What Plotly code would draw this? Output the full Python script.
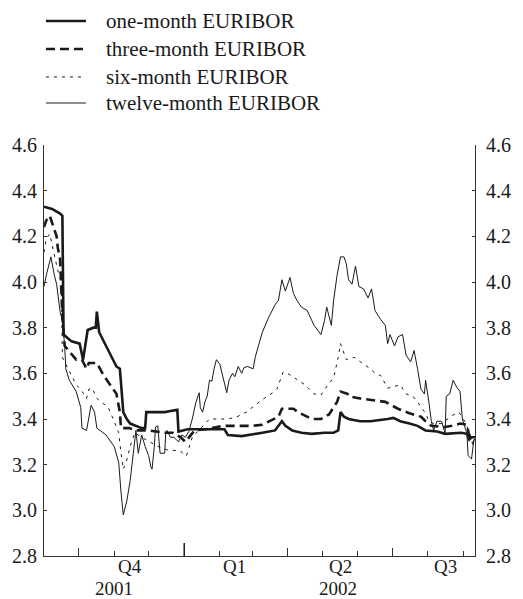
import plotly.graph_objects as go

# ---------------- data ----------------
one_month_dates = [
    "2001-09-01", "2001-09-08", "2001-09-15", "2001-09-17", "2001-09-18", "2001-09-25",
    "2001-10-02", "2001-10-05", "2001-10-09", "2001-10-14", "2001-10-16", "2001-10-17",
    "2001-10-19", "2001-10-23", "2001-10-27", "2001-10-31", "2001-11-03", "2001-11-06",
    "2001-11-07", "2001-11-09", "2001-11-12", "2001-11-15", "2001-11-20", "2001-11-25",
    "2001-11-28", "2001-11-29", "2001-12-07", "2001-12-15", "2001-12-20", "2001-12-26",
    "2001-12-27", "2002-01-04", "2002-01-10", "2002-01-21", "2002-02-05", "2002-02-08",
    "2002-02-20", "2002-03-10", "2002-03-21", "2002-03-27", "2002-03-30", "2002-04-05",
    "2002-04-13", "2002-04-22", "2002-05-03", "2002-05-11", "2002-05-15", "2002-05-17",
    "2002-05-20", "2002-05-24", "2002-06-03", "2002-06-12", "2002-06-21", "2002-06-27",
    "2002-07-02", "2002-07-08", "2002-07-16", "2002-07-23", "2002-07-30", "2002-08-09",
    "2002-08-16", "2002-08-26", "2002-08-30", "2002-09-04", "2002-09-06", "2002-09-08",
    "2002-09-11",
]
one_month = [
    4.33, 4.32, 4.30, 4.29, 3.77, 3.74,
    3.73, 3.66, 3.79, 3.80, 3.80, 3.87,
    3.78, 3.74, 3.70, 3.66, 3.63, 3.62,
    3.55, 3.43, 3.40, 3.38, 3.37, 3.36,
    3.36, 3.43, 3.43, 3.43, 3.435, 3.44,
    3.345, 3.355, 3.355, 3.355, 3.355, 3.33,
    3.325, 3.34, 3.35, 3.39, 3.37, 3.35,
    3.34, 3.335, 3.34, 3.34, 3.35, 3.43,
    3.41, 3.40, 3.39, 3.39, 3.395, 3.40,
    3.405, 3.39, 3.38, 3.37, 3.35, 3.345,
    3.335, 3.34, 3.34, 3.335, 3.31, 3.32,
    3.32,
]

three_month_dates = [
    "2001-09-01", "2001-09-03", "2001-09-06", "2001-09-08", "2001-09-12", "2001-09-13",
    "2001-09-15", "2001-09-17", "2001-09-19", "2001-09-29", "2001-10-04", "2001-10-08",
    "2001-10-10", "2001-10-17", "2001-10-23", "2001-11-03", "2001-11-06", "2001-11-07",
    "2001-11-14", "2001-11-20", "2001-11-25", "2001-12-01", "2001-12-15", "2001-12-22",
    "2001-12-29", "2002-01-02", "2002-01-10", "2002-01-20", "2002-02-03", "2002-02-16",
    "2002-03-01", "2002-03-10", "2002-03-24", "2002-03-27", "2002-04-06", "2002-04-10",
    "2002-04-22", "2002-04-30", "2002-05-07", "2002-05-14", "2002-05-17", "2002-05-23",
    "2002-05-24", "2002-06-03", "2002-06-15", "2002-06-25", "2002-07-06", "2002-07-16",
    "2002-07-26", "2002-07-30", "2002-08-04", "2002-08-16", "2002-08-22", "2002-08-29",
    "2002-09-04", "2002-09-06", "2002-09-10",
]
three_month = [
    4.24, 4.27, 4.29, 4.26, 4.20, 4.15,
    4.10, 3.85, 3.72, 3.66, 3.66, 3.62,
    3.645, 3.645, 3.59, 3.51, 3.43, 3.36,
    3.36, 3.35, 3.35, 3.35, 3.34, 3.34,
    3.32, 3.30, 3.35, 3.355, 3.37, 3.37,
    3.37, 3.375, 3.41, 3.445, 3.445, 3.43,
    3.40, 3.40, 3.42, 3.475, 3.52, 3.51,
    3.50, 3.49, 3.48, 3.475, 3.445, 3.425,
    3.41, 3.39, 3.37, 3.365, 3.37, 3.38,
    3.375, 3.325, 3.30,
]

six_month_dates = [
    "2001-09-01", "2001-09-03", "2001-09-06", "2001-09-08", "2001-09-10", "2001-09-13",
    "2001-09-15", "2001-09-16", "2001-09-17", "2001-09-23", "2001-09-29", "2001-10-03",
    "2001-10-08", "2001-10-10", "2001-10-13", "2001-10-17", "2001-10-27", "2001-11-01",
    "2001-11-05", "2001-11-07", "2001-11-09", "2001-11-12", "2001-11-15", "2001-11-19",
    "2001-11-25", "2001-12-09", "2001-12-17", "2001-12-29", "2002-01-01", "2002-01-03",
    "2002-01-08", "2002-01-23", "2002-02-05", "2002-02-14", "2002-02-24", "2002-03-10",
    "2002-03-19", "2002-03-23", "2002-03-28", "2002-04-01", "2002-04-07",
    "2002-04-16", "2002-04-24", "2002-04-30", "2002-05-06", "2002-05-11", "2002-05-15",
    "2002-05-17", "2002-05-22", "2002-05-29", "2002-06-06", "2002-06-12", "2002-06-16",
    "2002-06-21", "2002-06-27", "2002-07-08", "2002-07-13", "2002-07-19", "2002-07-25",
    "2002-07-30", "2002-08-02", "2002-08-06", "2002-08-13", "2002-08-22", "2002-08-28",
    "2002-09-02", "2002-09-06", "2002-09-10",
]
six_month = [
    4.13, 4.19, 4.21, 4.16, 4.12, 4.05,
    4.02, 3.99, 3.67, 3.61, 3.55, 3.53,
    3.49, 3.53, 3.535, 3.49, 3.45, 3.39,
    3.34, 3.25, 3.18, 3.22, 3.28, 3.34,
    3.32, 3.28, 3.265, 3.26, 3.24, 3.24,
    3.32, 3.40, 3.40, 3.405, 3.43, 3.485,
    3.515, 3.535, 3.605, 3.60, 3.58,
    3.55, 3.51, 3.505, 3.55, 3.58, 3.67,
    3.73, 3.66, 3.67, 3.64, 3.62, 3.60,
    3.59, 3.535, 3.55, 3.51, 3.50, 3.46,
    3.425, 3.39, 3.38, 3.38, 3.415, 3.43,
    3.39, 3.345, 3.27,
]

twelve_month_dates = [
    "2001-09-01", "2001-09-03", "2001-09-07", "2001-09-09", "2001-09-10", "2001-09-12",
    "2001-09-15", "2001-09-17", "2001-09-19", "2001-09-20", "2001-09-23", "2001-09-29",
    "2001-10-03", "2001-10-04", "2001-10-08", "2001-10-12", "2001-10-15", "2001-10-17",
    "2001-10-25", "2001-11-01", "2001-11-05", "2001-11-07", "2001-11-09", "2001-11-12",
    "2001-11-15", "2001-11-17", "2001-11-19", "2001-11-20", "2001-11-22", "2001-11-25",
    "2001-11-28", "2001-12-01", "2001-12-03", "2001-12-04", "2001-12-06", "2001-12-07",
    "2001-12-09", "2001-12-10", "2001-12-11", "2001-12-15", "2001-12-16", "2001-12-17",
    "2001-12-20", "2001-12-23", "2001-12-27", "2001-12-30", "2002-01-02", "2002-01-05",
    "2002-01-08", "2002-01-11", "2002-01-13", "2002-01-14", "2002-01-15", "2002-01-17",
    "2002-01-19", "2002-01-21", "2002-01-23", "2002-01-25", "2002-01-27", "2002-01-29",
    "2002-02-01", "2002-02-04", "2002-02-07", "2002-02-09", "2002-02-12", "2002-02-14",
    "2002-02-17", "2002-02-20", "2002-02-22", "2002-02-25", "2002-03-02", "2002-03-04",
    "2002-03-07", "2002-03-10", "2002-03-15", "2002-03-21", "2002-03-24", "2002-03-27",
    "2002-03-30", "2002-04-03", "2002-04-06", "2002-04-09", "2002-04-13", "2002-04-18",
    "2002-04-24", "2002-04-27", "2002-04-30", "2002-05-03", "2002-05-05", "2002-05-09",
    "2002-05-11", "2002-05-14", "2002-05-17", "2002-05-20", "2002-05-22", "2002-05-24",
    "2002-05-27", "2002-05-30", "2002-06-02", "2002-06-06", "2002-06-10", "2002-06-13",
    "2002-06-16", "2002-06-21", "2002-06-25", "2002-06-27", "2002-06-29", "2002-07-03",
    "2002-07-06", "2002-07-10", "2002-07-13", "2002-07-17", "2002-07-20", "2002-07-23",
    "2002-07-26", "2002-07-29", "2002-07-30", "2002-08-02", "2002-08-04", "2002-08-06",
    "2002-08-09", "2002-08-13", "2002-08-16", "2002-08-17", "2002-08-20", "2002-08-23",
    "2002-08-26", "2002-08-29", "2002-08-31", "2002-09-04", "2002-09-05", "2002-09-08",
    "2002-09-10", "2002-09-11",
]
twelve_month = [
    3.98, 4.03, 4.11, 4.05, 4.03, 3.99,
    3.87, 3.83, 3.72, 3.62, 3.57, 3.52,
    3.45, 3.36, 3.35, 3.46, 3.43, 3.36,
    3.33, 3.28, 3.21, 3.08, 2.98, 3.04,
    3.13, 3.22, 3.31, 3.35, 3.25, 3.33,
    3.28, 3.24, 3.19, 3.18, 3.28, 3.365,
    3.37, 3.295, 3.25, 3.25, 3.345, 3.35,
    3.32, 3.32, 3.30, 3.33, 3.32, 3.345,
    3.40, 3.47, 3.50, 3.515, 3.45, 3.43,
    3.475, 3.50, 3.57, 3.565, 3.62, 3.66,
    3.64, 3.57, 3.515, 3.57, 3.60, 3.585,
    3.63, 3.60, 3.625, 3.63, 3.62, 3.675,
    3.73, 3.78, 3.84, 3.90, 3.92, 4.01,
    3.96, 4.02, 3.95, 3.92, 3.89, 3.875,
    3.81, 3.79, 3.77, 3.83, 3.89, 3.81,
    3.92, 4.03, 4.11, 4.11, 4.08, 4.01,
    3.99, 4.07, 3.98, 3.97, 3.93, 3.97,
    3.875, 3.835, 3.81, 3.73, 3.77, 3.72,
    3.76, 3.77, 3.68, 3.65, 3.70, 3.62,
    3.53, 3.51, 3.57, 3.47, 3.39, 3.35,
    3.39, 3.39, 3.335, 3.50, 3.51, 3.57,
    3.54, 3.52, 3.40, 3.335, 3.24, 3.225,
    3.31, 3.31,
]

series_names = ["one-month EURIBOR", "three-month EURIBOR",
                "six-month EURIBOR", "twelve-month EURIBOR"]

y_ticks = [2.8, 3.0, 3.2, 3.4, 3.6, 3.8, 4.0, 4.2, 4.4, 4.6]
quarter_ticks = ["2001-10-01", "2002-01-01", "2002-04-01", "2002-07-01"]
quarter_labels = ["Q4", "Q1", "Q2", "Q3"]
quarter_label_pos = ["2001-11-15", "2002-02-14", "2002-05-17", "2002-08-16"]
year_labels = ["2001", "2002"]
year_label_pos = ["2001-11-01", "2002-05-15"]
x_range = ["2001-09-01", "2002-09-11"]
y_range = [2.8, 4.6]

# ---------------- figure ----------------
INK = "#1a1a1a"
AXIS = "#333333"
FONT = "Liberation Serif, Times New Roman, serif"
FS = 20
W, H = 523, 599
ML, MR, MT, MB = 44, 37, 145, 43
PLOT_W = W - ML - MR
PLOT_H = H - MT - MB


def px_to_paper(px, py):
    return (px - ML) / PLOT_W, (H - MB - py) / PLOT_H


fig = go.Figure()
styles = [
    dict(width=2.6, dash="solid"),
    dict(width=2.6, dash="9px,5px"),
    dict(width=1.0, dash="3px,5px"),
    dict(width=1.0, dash="solid"),
]
data = [(one_month_dates, one_month), (three_month_dates, three_month),
        (six_month_dates, six_month), (twelve_month_dates, twelve_month)]
for name, (xs, ys), st in zip(series_names, data, styles):
    fig.add_trace(go.Scatter(x=xs, y=ys, name=name, mode="lines",
                             line=dict(color=INK, width=st["width"], dash=st["dash"]),
                             hoverinfo="skip", showlegend=False))

# invisible trace so the right-hand axis is drawn
fig.add_trace(go.Scatter(x=[x_range[0]], y=[y_range[0]], yaxis="y2", mode="lines",
                         line=dict(width=0), showlegend=False, hoverinfo="skip"))

axis_common = dict(range=y_range, tickvals=y_ticks, tickformat=".1f",
                   ticks="inside", ticklen=3, tickwidth=1, tickcolor=AXIS,
                   showline=True, linecolor=AXIS, linewidth=1,
                   showgrid=False, zeroline=False,
                   tickfont=dict(family=FONT, size=FS, color=INK))

fig.update_layout(
    width=W, height=H,
    margin=dict(l=ML, r=MR, t=MT, b=MB),
    paper_bgcolor="white", plot_bgcolor="white",
    font=dict(family=FONT, size=FS, color=INK),
    showlegend=False,
    xaxis=dict(type="date", range=x_range, tickvals=quarter_ticks, showticklabels=False,
               ticks="inside", ticklen=8, tickwidth=1, tickcolor=AXIS,
               minor=dict(dtick="M1", tick0="2001-09-01", ticks="inside", ticklen=5,
                          tickwidth=1, tickcolor=AXIS, showgrid=False),
               showline=True, linecolor=AXIS, linewidth=1, showgrid=False, zeroline=False),
    yaxis=dict(side="left", ticklabelstandoff=2, **axis_common),
    yaxis2=dict(side="right", overlaying="y", ticklabelstandoff=6, **axis_common),
)

# legend drawn in the top margin: sample line + label for each series
legend_rows_px = [21, 49, 77, 103]
for name, st, ry in zip(series_names, styles, legend_rows_px):
    x0, yy = px_to_paper(46, ry)
    x1, _ = px_to_paper(87, ry)
    fig.add_shape(type="line", xref="paper", yref="paper", x0=x0, x1=x1, y0=yy, y1=yy,
                  line=dict(color=INK, width=st["width"], dash=st["dash"]))
    tx, _ = px_to_paper(106, ry)
    fig.add_annotation(x=tx, y=yy, xref="paper", yref="paper", text=name,
                       showarrow=False, xanchor="left", yanchor="middle",
                       font=dict(family=FONT, size=21, color=INK))

# taller year-boundary tick
fig.add_shape(type="line", xref="x", yref="paper", x0="2002-01-01", x1="2002-01-01",
              y0=0, y1=13 / PLOT_H, line=dict(color=INK, width=1.5))

for txt, pos in zip(quarter_labels, quarter_label_pos):
    fig.add_annotation(x=pos, y=-10 / PLOT_H, xref="x", yref="paper", text=txt,
                       showarrow=False, yanchor="middle", xanchor="center",
                       font=dict(family=FONT, size=19, color=INK))
for txt, pos in zip(year_labels, year_label_pos):
    fig.add_annotation(x=pos, y=-32 / PLOT_H, xref="x", yref="paper", text=txt,
                       showarrow=False, yanchor="middle", xanchor="center",
                       font=dict(family=FONT, size=19, color=INK))

fig.write_html("out.html", config={"displayModeBar": False},
               post_script="document.body.style.margin='0';document.body.style.padding='0';")
